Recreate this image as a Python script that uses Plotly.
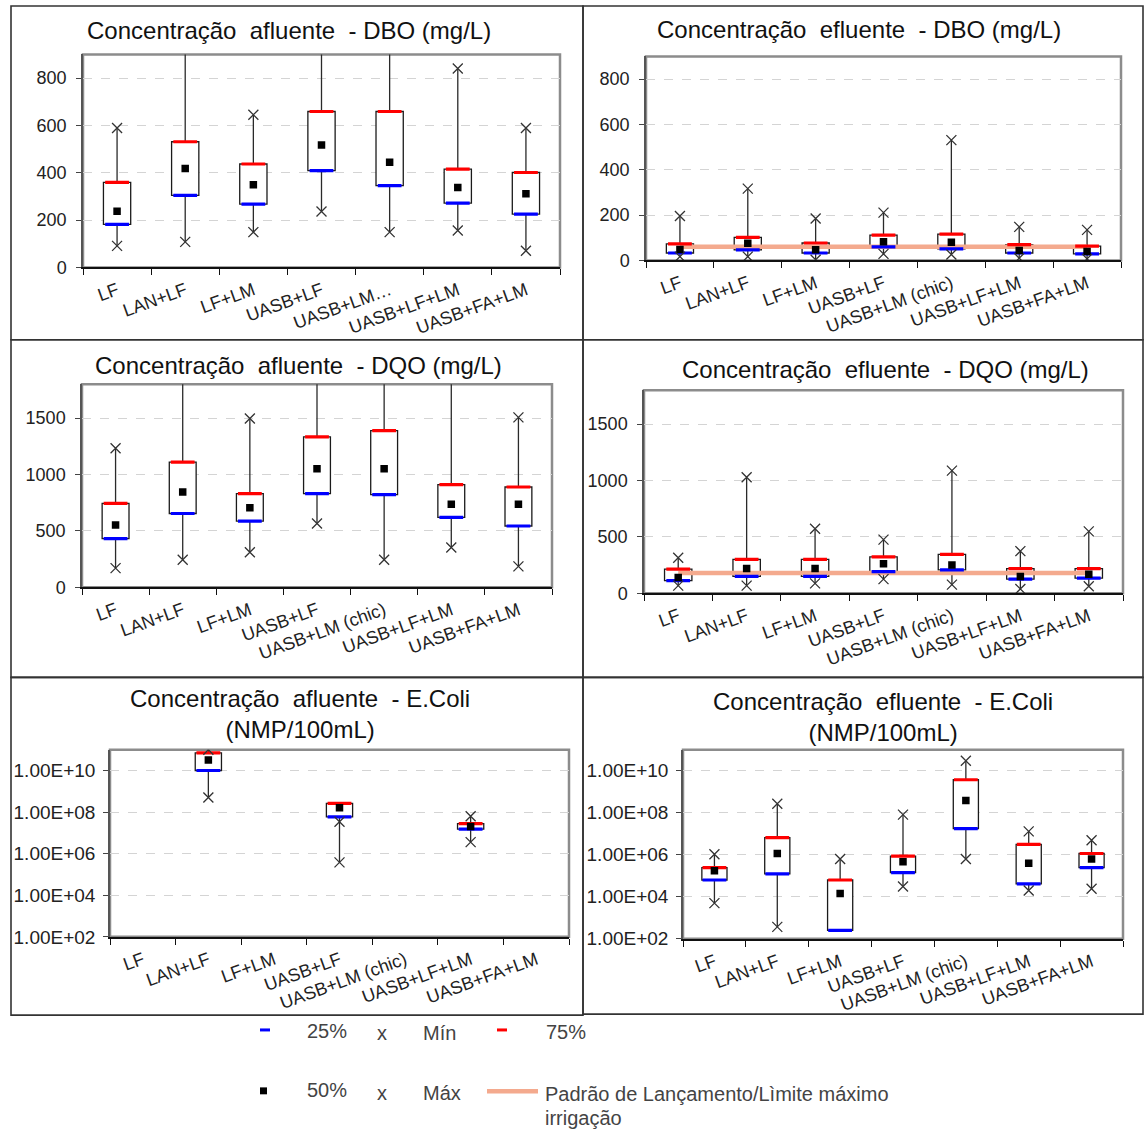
import plotly.graph_objects as go

W, H = 1144, 1138

cats = ["LF", "LAN+LF", "LF+LM", "UASB+LF", "UASB+LM (chic)", "UASB+LF+LM", "UASB+FA+LM"]
cats_p1 = ["LF", "LAN+LF", "LF+LM", "UASB+LF", "UASB+LM…", "UASB+LF+LM", "UASB+FA+LM"]

# Afluente DBO (mg/L)
dbo_af_min = [91, 108, 149, 236, 149, 156, 70]
dbo_af_q1 = [182, 304, 267, 409, 346, 272, 225]
dbo_af_med = [237, 418, 349, 517, 444, 338, 311]
dbo_af_q3 = [359, 531, 437, 659, 659, 415, 401]
dbo_af_max = [589, 1000, 645, 1000, 1000, 841, 589]

# Efluente DBO (mg/L)
dbo_ef_min = [17, 17, 3, 29, 26, 10, 7]
dbo_ef_q1 = [33, 47, 33, 60, 51, 33, 29]
dbo_ef_med = [48, 76, 47, 83, 80, 44, 39]
dbo_ef_q3 = [73, 102, 77, 112, 116, 70, 63]
dbo_ef_max = [196, 317, 185, 211, 531, 148, 135]
dbo_limit = [60, 60, 60, 60, 60, 60, 60]

# Afluente DQO (mg/L)
dqo_af_min = [170, 244, 311, 566, 244, 352, 185]
dqo_af_q1 = [431, 654, 587, 831, 822, 619, 543]
dqo_af_med = [552, 845, 704, 1051, 1051, 737, 737]
dqo_af_q3 = [743, 1109, 831, 1333, 1388, 910, 889]
dqo_af_max = [1233, 2000, 1497, 2000, 2000, 2000, 1506]

# Efluente DQO (mg/L)
dqo_ef_min = [67, 67, 87, 125, 76, 38, 61]
dqo_ef_q1 = [111, 149, 149, 192, 207, 125, 134]
dqo_ef_med = [140, 218, 218, 262, 250, 149, 169]
dqo_ef_q3 = [213, 300, 300, 323, 344, 218, 218]
dqo_ef_max = [315, 1028, 571, 475, 1087, 373, 548]
dqo_limit = [180, 180, 180, 180, 180, 180, 180]

# Afluente E.Coli (NMP/100mL)
eco_af_min = [None, 5.0e8, None, 3.8e5, None, 3.6e6, None]
eco_af_q1 = [None, 1.0e10, None, 5.9e7, None, 1.5e7, None]
eco_af_med = [None, 3.2e10, None, 1.6e8, None, 2.0e7, None]
eco_af_q3 = [None, 7.0e10, None, 2.6e8, None, 2.8e7, None]
eco_af_max = [None, 1.0e11, None, 3.4e7, None, 6.3e7, None]

# Efluente E.Coli (NMP/100mL)
eco_ef_min = [5.0e3, 3.7e2, None, 3.1e4, 6.3e5, 2.0e4, 2.4e4]
eco_ef_q1 = [6.3e4, 1.23e5, 2.5e2, 1.4e5, 1.74e7, 4.1e4, 2.45e5]
eco_ef_med = [1.74e5, 1.15e6, 1.45e4, 4.7e5, 3.8e8, 3.9e5, 6.3e5]
eco_ef_q3 = [2.45e5, 6.6e6, 6.3e4, 8.7e5, 3.7e9, 3.1e6, 1.15e6]
eco_ef_max = [1.05e6, 2.7e8, 6.3e5, 8.1e7, 2.95e10, 1.3e7, 4.9e6]

log_tickvals = [1e2, 1e4, 1e6, 1e8, 1e10]
log_ticktext = ["1.00E+02", "1.00E+04", "1.00E+06", "1.00E+08", "1.00E+10"]

FONT = "Liberation Sans, Arial, sans-serif"


def fx(px):
    return px / W


def fy(py):
    return 1 - py / H


panels = [
    dict(title="Concentração  afluente  - DBO (mg/L)", tx=289, ty=31, labels=cats_p1,
         dom=(83, 560, 55, 270), yr=[0, 900], dtick=200, log=False,
         d=(dbo_af_min, dbo_af_q1, dbo_af_med, dbo_af_q3, dbo_af_max), lim=None),
    dict(title="Concentração  efluente  - DBO (mg/L)", tx=859, ty=30, labels=cats,
         dom=(646, 1121, 57, 263), yr=[0, 900], dtick=200, log=False,
         d=(dbo_ef_min, dbo_ef_q1, dbo_ef_med, dbo_ef_q3, dbo_ef_max), lim=dbo_limit),
    dict(title="Concentração  afluente  - DQO (mg/L)", tx=298, ty=369, labels=cats,
         dom=(82, 552, 388, 593), yr=[0, 1800], dtick=500, log=False,
         d=(dqo_af_min, dqo_af_q1, dqo_af_med, dqo_af_q3, dqo_af_max), lim=None),
    dict(title="Concentração  efluente  - DQO (mg/L)", tx=885, ty=373, labels=cats,
         dom=(644, 1123, 394, 599), yr=[0, 1800], dtick=500, log=False,
         d=(dqo_ef_min, dqo_ef_q1, dqo_ef_med, dqo_ef_q3, dqo_ef_max), lim=dqo_limit),
    dict(title="Concentração  afluente  - E.Coli<br>(NMP/100mL)", tx=300, ty=721, labels=cats,
         dom=(110, 569, 757, 946), yr=[2, 11], dtick=None, log=True,
         d=(eco_af_min, eco_af_q1, eco_af_med, eco_af_q3, eco_af_max), lim=None),
    dict(title="Concentração  efluente  - E.Coli<br>(NMP/100mL)", tx=883, ty=724, labels=cats,
         dom=(683, 1123, 757, 948), yr=[2, 11], dtick=None, log=True,
         d=(eco_ef_min, eco_ef_q1, eco_ef_med, eco_ef_q3, eco_ef_max), lim=None),
]

fig = go.Figure()
layout = dict(
    width=W, height=H, margin=dict(l=0, r=0, t=0, b=0),
    paper_bgcolor="white", plot_bgcolor="white", showlegend=False,
    font=dict(family=FONT, color="#222222"),
)
shapes = []
annotations = []

for i, p in enumerate(panels):
    n = "" if i == 0 else str(i + 1)
    xa, ya = "x" + n, "y" + n
    mn, q1, med, q3, mx = p["d"]
    labs = p["labels"]
    # boxes (Q1 -> Q3)
    heights = [None if (a is None or b is None) else b - a for a, b in zip(q1, q3)]
    fig.add_trace(go.Bar(x=labs, y=heights, base=q1, width=0.4, xaxis=xa, yaxis=ya,
                         marker=dict(color="white", line=dict(color="#1a1a1a", width=1.3)),
                         hoverinfo="skip"))
    # whiskers
    wx, wy = [], []
    for c, a, b, cc, d in zip(labs, mn, q1, q3, mx):
        if b is None:
            continue
        if a is not None:
            wx += [c, c, None]
            wy += [a, b, None]
        if d is not None and d > cc:
            wx += [c, c, None]
            wy += [cc, d, None]
    fig.add_trace(go.Scatter(x=wx, y=wy, mode="lines", xaxis=xa, yaxis=ya,
                             line=dict(color="#2a2a2a", width=1.3), hoverinfo="skip"))
    if p["lim"] is not None:
        fig.add_trace(go.Scatter(x=labs, y=p["lim"], mode="lines", xaxis=xa, yaxis=ya,
                                 line=dict(color="#F4AA8E", width=4.5), hoverinfo="skip"))
    fig.add_trace(go.Scatter(x=labs, y=q1, mode="markers", xaxis=xa, yaxis=ya,
                             marker=dict(symbol="line-ew", size=17,
                                         line=dict(color="#0000FF", width=3.2))))
    fig.add_trace(go.Scatter(x=labs, y=q3, mode="markers", xaxis=xa, yaxis=ya,
                             marker=dict(symbol="line-ew", size=17,
                                         line=dict(color="#FF0000", width=3.2))))
    fig.add_trace(go.Scatter(x=labs, y=med, mode="markers", xaxis=xa, yaxis=ya,
                             marker=dict(symbol="square", size=7.5, color="black")))
    for arr in (mx, mn):
        fig.add_trace(go.Scatter(x=labs, y=arr, mode="markers", xaxis=xa, yaxis=ya,
                                 marker=dict(symbol="x-thin", size=10,
                                             line=dict(color="#333333", width=1.3))))

    x0, x1, y0, y1 = p["dom"]
    xaxis = dict(domain=[fx(x0), fx(x1)], anchor=ya, type="category",
                 categoryorder="array", categoryarray=labs, range=[-0.5, 6.5],
                 tickson="boundaries", ticks="outside", ticklen=6, tickcolor="#111",
                 tickwidth=1.3, showline=True, linecolor="#111", linewidth=1.5,
                 showgrid=False, tickangle=-20, fixedrange=True, ticklabelstandoff=4,
                 tickfont=dict(family=FONT, size=18, color="#222"))
    yaxis = dict(domain=[fy(y1), fy(y0)], anchor=xa, range=p["yr"], ticks="outside",
                 ticklen=5, tickcolor="#444", showline=True, linecolor="#555",
                 linewidth=1.5, showgrid=True, gridcolor="#d4d4d4", griddash="dash",
                 gridwidth=1, zeroline=False, fixedrange=True, ticklabelstandoff=6,
                 tickfont=dict(family=FONT, size=18, color="#222"))
    if p["log"]:
        yaxis.update(type="log", tickmode="array", tickvals=log_tickvals, ticktext=log_ticktext,
                     ticklabelstandoff=4, tickfont=dict(family=FONT, size=19, color="#222"))
    else:
        yaxis.update(dtick=p["dtick"], tick0=0)
    layout["xaxis" + n] = xaxis
    layout["yaxis" + n] = yaxis
    # plot-area frame
    shapes.append(dict(type="rect", xref=xa + " domain", yref=ya + " domain",
                       x0=0, x1=1, y0=0, y1=1, line=dict(color="#8c8c8c", width=2.5),
                       layer="below"))
    annotations.append(dict(text=p["title"], x=fx(p["tx"]), y=fy(p["ty"]), xref="paper",
                            yref="paper", showarrow=False, xanchor="center", yanchor="middle",
                            font=dict(family=FONT, size=24, color="#111")))

# panel frames
for (a, b, c, d) in [(11, 583, 6, 343), (583, 1143, 6, 343), (11, 583, 343, 684),
                     (583, 1143, 343, 684), (11, 583, 684, 1025), (583, 1143, 684, 1024)]:
    shapes.append(dict(type="rect", xref="paper", yref="paper", x0=fx(a), x1=fx(b),
                       y0=fy(d), y1=fy(c), line=dict(color="#333333", width=1.6)))

# legend
shapes.append(dict(type="line", xref="paper", yref="paper", x0=fx(260), x1=fx(270),
                   y0=fy(1040), y1=fy(1040), line=dict(color="#0000FF", width=3)))
shapes.append(dict(type="line", xref="paper", yref="paper", x0=fx(497), x1=fx(507),
                   y0=fy(1040), y1=fy(1040), line=dict(color="#FF0000", width=3)))
shapes.append(dict(type="rect", xref="paper", yref="paper", x0=fx(260), x1=fx(267),
                   y0=fy(1105), y1=fy(1098), fillcolor="black", line=dict(width=0)))
shapes.append(dict(type="line", xref="paper", yref="paper", x0=fx(487), x1=fx(538),
                   y0=fy(1102), y1=fy(1102), line=dict(color="#F4AA8E", width=4.5)))

legend_items = [("25%", 305, 1041), ("x", 375, 1043), ("Mín", 421, 1043), ("75%", 544, 1042),
                ("50%", 305, 1101), ("x", 375, 1104), ("Máx", 421, 1104),
                ("Padrão de Lançamento/Lìmite máximo", 543, 1105), ("irrigação", 543, 1129)]
for t, x, y in legend_items:
    annotations.append(dict(text=t, x=fx(x), y=fy(y), xref="paper", yref="paper",
                            showarrow=False, xanchor="left", yanchor="middle",
                            font=dict(family=FONT, size=20, color="#444")))

layout["shapes"] = shapes
layout["annotations"] = annotations
fig.update_layout(**layout)
post = ("var s=document.body.style;s.margin='0';s.padding='0';s.overflow='hidden';"
        "document.documentElement.style.overflow='hidden';")
fig.write_html("out.html", config={"displayModeBar": False}, post_script=post)
